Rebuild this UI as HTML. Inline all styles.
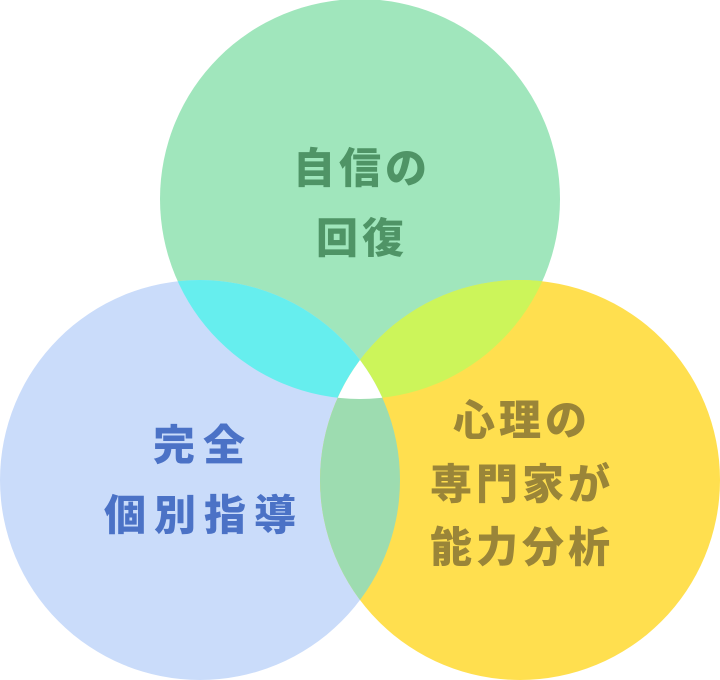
<!DOCTYPE html>
<html><head><meta charset="utf-8"><style>
html,body{margin:0;padding:0;background:#fff;width:720px;height:680px;overflow:hidden}
text{font-family:"Liberation Sans","Noto Sans CJK JP",sans-serif;font-weight:900;font-size:42px;text-anchor:middle;letter-spacing:4px}
</style></head><body>
<svg width="720" height="680" viewBox="0 0 720 680" xmlns="http://www.w3.org/2000/svg">
<defs>
<clipPath id="cT"><circle cx="360" cy="199" r="200"/></clipPath>
<clipPath id="cL"><circle cx="200" cy="480" r="200"/></clipPath>
<clipPath id="cR"><circle cx="520" cy="480" r="200"/></clipPath>
</defs>
<circle cx="360" cy="199" r="200" fill="#a0e6bc"/>
<circle cx="200" cy="480" r="200" fill="#cadcfa"/>
<circle cx="520" cy="480" r="200" fill="#ffdf4f"/>
<circle cx="200" cy="480" r="200" fill="#66eeee" clip-path="url(#cT)"/>
<circle cx="520" cy="480" r="200" fill="#ccf55a" clip-path="url(#cT)"/>
<g clip-path="url(#cL)"><circle cx="520" cy="480" r="200" fill="#9ddcb0"/></g>
<g clip-path="url(#cT)"><g clip-path="url(#cL)"><circle cx="520" cy="480" r="200" fill="#ffffff"/></g></g>
<text x="362" y="183" fill="#4f9466">自信の</text>
<text x="362" y="253" fill="#4f9466">回復</text>
<text x="203" y="460" fill="#4b72c6" style="letter-spacing:8px">完全</text>
<text x="204" y="530" fill="#4b72c6" style="letter-spacing:8px">個別指導</text>
<text x="522" y="435" fill="#9a8538">心理の</text>
<text x="522" y="499" fill="#9a8538">専門家が</text>
<text x="522" y="562" fill="#9a8538">能力分析</text>
</svg>
</body></html>
